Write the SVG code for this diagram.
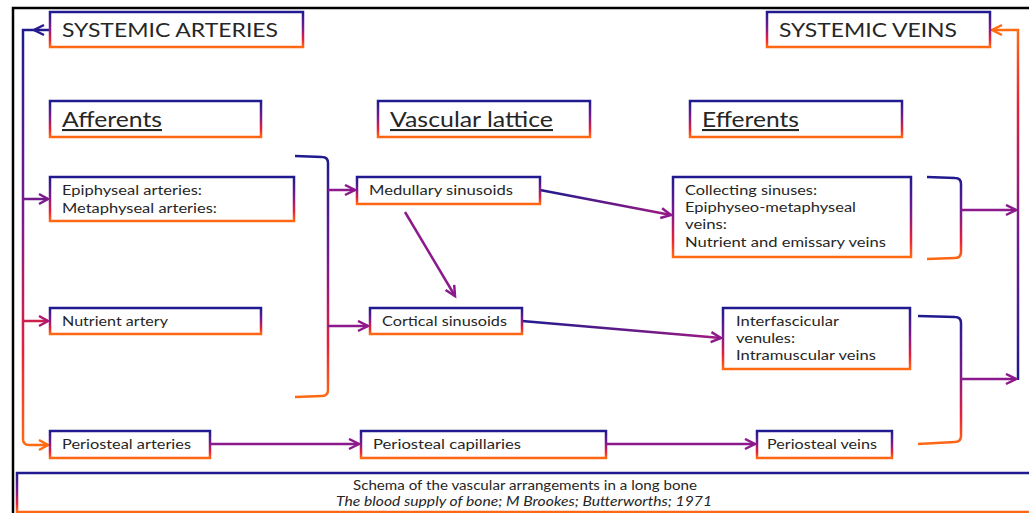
<svg xmlns="http://www.w3.org/2000/svg" width="1029" height="513" viewBox="0 0 1029 513">
<defs>
<linearGradient id="g" x1="0" y1="0" x2="0" y2="1">
<stop offset="0" stop-color="#1f1a8f"/>
<stop offset="0.45" stop-color="#7a1a8e"/>
<stop offset="0.78" stop-color="#e8203a"/>
<stop offset="1" stop-color="#ff6a12"/>
</linearGradient>
<linearGradient id="gr" x1="0" y1="1" x2="0" y2="0">
<stop offset="0" stop-color="#1f1a8f"/>
<stop offset="0.45" stop-color="#7a1a8e"/>
<stop offset="0.78" stop-color="#e8203a"/>
<stop offset="1" stop-color="#ff6a12"/>
</linearGradient>
<linearGradient id="gh" x1="0" y1="0" x2="1" y2="0">
<stop offset="0" stop-color="#1f1a8f"/>
<stop offset="1" stop-color="#a01a80"/>
</linearGradient>
<marker id="ah" markerUnits="userSpaceOnUse" markerWidth="14" markerHeight="14" refX="11" refY="6" orient="auto">
<path d="M1,1 L11,6 L1,11" fill="none" stroke="#8c1a8c" stroke-width="2.5" stroke-linejoin="miter"/>
</marker>
<style>
.box{fill:#fff;stroke:url(#g);stroke-width:2.5}
.t{font-family:Lato,'Open Sans',sans-serif;fill:#262626}
.s{font-size:13.5px}
.h{font-size:20px}
.u{font-size:21px;text-decoration:underline}
.ln{fill:none;stroke-width:2.5}
.ar{fill:none;stroke:#8c1a8c;stroke-width:2.5;marker-end:url(#ah)}
.ch{fill:none;stroke-width:2.5}
</style>
</defs>
<rect width="1029" height="513" fill="#fff"/>
<path d="M13,513 V8 H1029" fill="none" stroke="#000" stroke-width="2.5"/>

<g id="connectors">
<path class="ln" stroke="url(#g)" d="M50,30 H23 V439 Q23,445 29,445 H48 M23,199 H48 M23,321 H48"/>
<polyline class="ch" stroke="#2a1a8f" points="44,25 34,30 44,35"/>
<polyline class="ch" stroke="#7a1a8e" points="39,194 48,199 39,204"/>
<polyline class="ch" stroke="#b01870" points="39,316 48,321 39,326"/>
<polyline class="ch" stroke="#ff6a12" points="39,440 48,445 39,450"/>
<path class="ln" stroke="url(#gr)" d="M1018,380 V30 H993"/>
<polyline class="ch" stroke="#ff6a12" points="1002,25 992,30 1002,35"/>
<path class="ln" stroke="url(#g)" d="M295,156 L322,157 Q328,157 328,163 L328,390 Q328,396 322,396 L295,397"/>
<path class="ln" stroke="url(#g)" d="M927,177 L955,178 Q961,178 961,184 V252 Q961,258 955,258 L927,259"/>
<path class="ln" stroke="url(#g)" d="M918,316 L955,317 Q961,317 961,323 V436 Q961,442 955,442 L918,444"/>
<line class="ar" x1="328" y1="190" x2="355" y2="190"/>
<line class="ar" x1="328" y1="326" x2="368" y2="326"/>
<line class="ar" x1="961" y1="210" x2="1016" y2="210"/>
<line class="ar" x1="961" y1="379" x2="1016" y2="379"/>
<line class="ar" x1="210" y1="444" x2="359" y2="444"/>
<line class="ar" x1="606" y1="444" x2="755" y2="444"/>
<line class="ar" x1="405" y1="212" x2="455" y2="296"/>
<path d="M540,190 L671,215" fill="none" stroke="url(#gh)" stroke-width="2.5" marker-end="url(#ah)"/>
<path d="M522,321 L721,338" fill="none" stroke="url(#gh)" stroke-width="2.5" marker-end="url(#ah)"/>
</g>

<g id="systemic-arteries"><rect class="box" x="50" y="12" width="253" height="35"/><text class="t h" x="62" y="37" textLength="216" lengthAdjust="spacingAndGlyphs">SYSTEMIC ARTERIES</text></g>
<g id="systemic-veins"><rect class="box" x="767" y="12" width="223" height="35"/><text class="t h" x="779" y="37" textLength="178" lengthAdjust="spacingAndGlyphs">SYSTEMIC VEINS</text></g>
<g id="afferents"><rect class="box" x="50" y="101" width="211" height="36"/><text class="t u" x="62" y="127" textLength="100" lengthAdjust="spacingAndGlyphs">Afferents</text></g>
<g id="vascular-lattice"><rect class="box" x="378" y="101" width="212" height="36"/><text class="t u" x="390" y="127" textLength="163" lengthAdjust="spacingAndGlyphs">Vascular lattice</text></g>
<g id="efferents"><rect class="box" x="690" y="101" width="212" height="36"/><text class="t u" x="702" y="127" textLength="97" lengthAdjust="spacingAndGlyphs">Efferents</text></g>
<g id="epiphyseal"><rect class="box" x="50" y="177" width="244" height="44"/><text class="t s" x="62" y="195" textLength="140" lengthAdjust="spacingAndGlyphs">Epiphyseal arteries:</text><text class="t s" x="62" y="213" textLength="155" lengthAdjust="spacingAndGlyphs">Metaphyseal arteries:</text></g>
<g id="nutrient-artery"><rect class="box" x="50" y="308" width="211" height="26"/><text class="t s" x="62" y="326" textLength="106" lengthAdjust="spacingAndGlyphs">Nutrient artery</text></g>
<g id="periosteal-arteries"><rect class="box" x="50" y="431" width="160" height="27"/><text class="t s" x="62" y="449" textLength="129" lengthAdjust="spacingAndGlyphs">Periosteal arteries</text></g>
<g id="medullary"><rect class="box" x="357" y="177" width="183" height="27"/><text class="t s" x="369" y="195" textLength="144" lengthAdjust="spacingAndGlyphs">Medullary sinusoids</text></g>
<g id="cortical"><rect class="box" x="370" y="308" width="152" height="26"/><text class="t s" x="382" y="326" textLength="125" lengthAdjust="spacingAndGlyphs">Cortical sinusoids</text></g>
<g id="periosteal-capillaries"><rect class="box" x="361" y="431" width="245" height="27"/><text class="t s" x="373" y="449" textLength="148" lengthAdjust="spacingAndGlyphs">Periosteal capillaries</text></g>
<g id="collecting"><rect class="box" x="673" y="177" width="238" height="80"/><text class="t s" x="685" y="195" textLength="132" lengthAdjust="spacingAndGlyphs">Collecting sinuses:</text><text class="t s" x="685" y="212" textLength="171" lengthAdjust="spacingAndGlyphs">Epiphyseo-metaphyseal</text><text class="t s" x="685" y="229" textLength="42" lengthAdjust="spacingAndGlyphs">veins:</text><text class="t s" x="685" y="247" textLength="201" lengthAdjust="spacingAndGlyphs">Nutrient and emissary veins</text></g>
<g id="interfascicular"><rect class="box" x="723" y="308" width="187" height="61"/><text class="t s" x="736" y="326" textLength="103" lengthAdjust="spacingAndGlyphs">Interfascicular</text><text class="t s" x="736" y="343" textLength="59" lengthAdjust="spacingAndGlyphs">venules:</text><text class="t s" x="736" y="360" textLength="140" lengthAdjust="spacingAndGlyphs">Intramuscular veins</text></g>
<g id="periosteal-veins"><rect class="box" x="757" y="431" width="135" height="27"/><text class="t s" x="767" y="449" textLength="110" lengthAdjust="spacingAndGlyphs">Periosteal veins</text></g>
<g id="caption"><rect class="box" x="17" y="473" width="1030" height="39"/><text class="t" font-size="12.5" x="353" y="490" textLength="344" lengthAdjust="spacingAndGlyphs">Schema of the vascular arrangements in a long bone</text><text class="t" font-size="12.5" font-style="italic" x="336" y="506" textLength="376" lengthAdjust="spacingAndGlyphs">The blood supply of bone; M Brookes; Butterworths; 1971</text></g>
</svg>
